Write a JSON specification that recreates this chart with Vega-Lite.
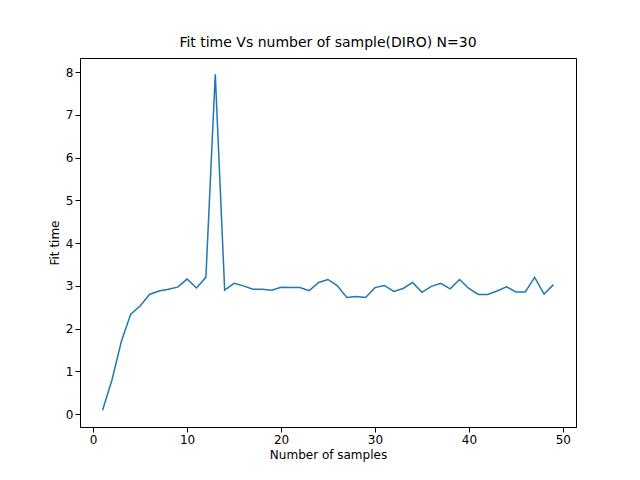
{"$schema":"https://vega.github.io/schema/vega-lite/v6.json","width":496,"height":369,"autosize":{"type":"none"},"padding":{"left":80,"top":58,"right":64,"bottom":53},
"title":{"text":"Fit time Vs number of sample(DIRO) N=30","font":"DejaVu Sans","fontSize":14,"fontWeight":"normal","offset":8},
"config":{"view":{"stroke":"black"},"axis":{"grid":false,"labelFont":"DejaVu Sans","titleFont":"DejaVu Sans","labelFontSize":12,"titleFontSize":12,"titleFontWeight":"normal","domainColor":"black","tickColor":"black","labelColor":"black"}},
"data":{"values":[{"n":1,"t":0.09},{"n":2,"t":0.8},{"n":3,"t":1.7},{"n":4,"t":2.34},{"n":5,"t":2.53},{"n":6,"t":2.8},{"n":7,"t":2.88},{"n":8,"t":2.92},{"n":9,"t":2.97},{"n":10,"t":3.16},{"n":11,"t":2.95},{"n":12,"t":3.2},{"n":13,"t":7.95},{"n":14,"t":2.9},{"n":15,"t":3.06},{"n":16,"t":3.0},{"n":17,"t":2.92},{"n":18,"t":2.92},{"n":19,"t":2.9},{"n":20,"t":2.97},{"n":21,"t":2.96},{"n":22,"t":2.96},{"n":23,"t":2.89},{"n":24,"t":3.08},{"n":25,"t":3.15},{"n":26,"t":3.0},{"n":27,"t":2.73},{"n":28,"t":2.75},{"n":29,"t":2.73},{"n":30,"t":2.96},{"n":31,"t":3.01},{"n":32,"t":2.87},{"n":33,"t":2.94},{"n":34,"t":3.08},{"n":35,"t":2.85},{"n":36,"t":2.99},{"n":37,"t":3.06},{"n":38,"t":2.93},{"n":39,"t":3.15},{"n":40,"t":2.94},{"n":41,"t":2.8},{"n":42,"t":2.8},{"n":43,"t":2.88},{"n":44,"t":2.98},{"n":45,"t":2.86},{"n":46,"t":2.86},{"n":47,"t":3.2},{"n":48,"t":2.81},{"n":49,"t":3.03}]},
"mark":{"type":"line","color":"#1f77b4","strokeWidth":1.5},
"encoding":{"x":{"field":"n","type":"quantitative","title":"Number of samples","scale":{"domain":[-1.4,51.4],"nice":false,"zero":false},"axis":{"values":[0,10,20,30,40,50]}},
"y":{"field":"t","type":"quantitative","title":"Fit time","scale":{"domain":[-0.3,8.33],"nice":false,"zero":false},"axis":{"values":[0,1,2,3,4,5,6,7,8]}}}}
